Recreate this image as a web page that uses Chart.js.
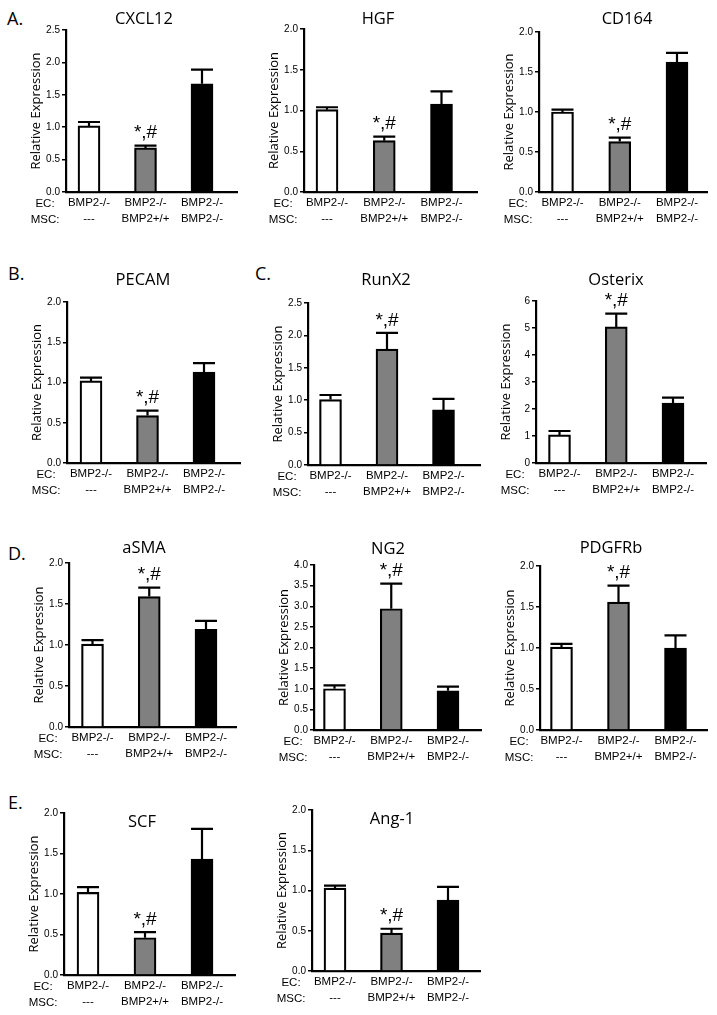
<!DOCTYPE html>
<html><head><meta charset="utf-8">
<script src="https://cdn.jsdelivr.net/npm/chart.js@4.4.0/dist/chart.umd.min.js"></script>
<style>
html,body{margin:0;padding:0;background:#fff;}
#fig{position:relative;width:717px;height:1015px;overflow:hidden;font-family:"Open Sans",Arial,sans-serif;color:#000;}
.ttl{position:absolute;font-size:16.5px;transform:translate(-50%,-50%);white-space:nowrap;}
.let{position:absolute;font-size:18px;transform:translate(0,-50%);white-space:nowrap;}
.grp{position:absolute;font-family:"Liberation Sans",Arial,sans-serif;font-size:11.5px;line-height:16px;text-align:center;transform:translateX(-50%);white-space:nowrap;}
canvas{position:absolute;}
</style></head><body><div id="fig"></div>
<script>
// ---------- data ----------
const ecLabels  = ['BMP2-/-','BMP2-/-','BMP2-/-'];
const mscLabels = ['---','BMP2+/+','BMP2-/-'];
const rowLabels = ['EC:','MSC:'];
const genes = ['CXCL12','HGF','CD164','PECAM','RunX2','Osterix','aSMA','NG2','PDGFRb','SCF','Ang-1'];
const panelLetters = ['A.','B.','C.','D.','E.'];
const yMaxes = [2.5,2.0,2.0,2.0,2.5,6,2.0,4.0,2.0,2.0,2.0];
const ySteps = [0.5,0.5,0.5,0.5,0.5,1,0.5,0.5,0.5,0.5,0.5];
const sigMark = ['', '*,#', ''];

const cxcl12Mean  = [1.02,0.68,1.67];  const cxcl12Sem  = [0.06,0.035,0.22];
const hgfMean     = [1.01,0.63,1.08];  const hgfSem     = [0.03,0.05,0.155];
const cd164Mean   = [1.00,0.63,1.625]; const cd164Sem   = [0.03,0.05,0.115];
const pecamMean   = [1.02,0.59,1.13];  const pecamSem   = [0.04,0.06,0.11];
const runx2Mean   = [1.01,1.79,0.85];  const runx2Sem   = [0.07,0.25,0.17];
const osterixMean = [1.04,5.04,2.22];  const osterixSem = [0.145,0.49,0.20];
const asmaMean    = [1.01,1.59,1.19];  const asmaSem    = [0.05,0.11,0.105];
const ng2Mean     = [1.00,2.94,0.95];  const ng2Sem     = [0.08,0.61,0.10];
const pdgfrbMean  = [1.01,1.56,1.00];  const pdgfrbSem  = [0.04,0.20,0.155];
const scfMean     = [1.02,0.46,1.43];  const scfSem     = [0.065,0.07,0.375];
const ang1Mean    = [1.03,0.47,0.88];  const ang1Sem    = [0.03,0.055,0.165];

const allMeans = [cxcl12Mean,hgfMean,cd164Mean,pecamMean,runx2Mean,osterixMean,asmaMean,ng2Mean,pdgfrbMean,scfMean,ang1Mean];
const allSems  = [cxcl12Sem,hgfSem,cd164Sem,pecamSem,runx2Sem,osterixSem,asmaSem,ng2Sem,pdgfrbSem,scfSem,ang1Sem];

// ---------- layout (page pixels) ----------
const layout = [
  {ax:66, right:237, yTop:30,  y0:192, c0:89,  c2:202, tx:144, ty:17},
  {ax:304,right:477, yTop:29,  y0:192, c0:327, c2:441.5, tx:378, ty:17},
  {ax:539,right:707, yTop:32,  y0:192, c0:562.5,c2:677, tx:627, ty:17},
  {ax:67, right:240, yTop:302, y0:463, c0:91,  c2:204, tx:143, ty:278},
  {ax:308,right:480, yTop:303, y0:465, c0:330.5,c2:443.5, tx:386, ty:278},
  {ax:536,right:706, yTop:301, y0:463, c0:559.5,c2:673, tx:616, ty:278},
  {ax:69, right:236, yTop:563, y0:727, c0:92.5,c2:206, tx:144, ty:546},
  {ax:314,right:481, yTop:565, y0:730, c0:334.5,c2:448, tx:388, ty:547},
  {ax:540,right:707, yTop:566, y0:730, c0:561.5,c2:675.5, tx:611, ty:546},
  {ax:64, right:235, yTop:813, y0:975, c0:88,  c2:202, tx:142, ty:820},
  {ax:312,right:480, yTop:810, y0:971, c0:335, c2:448, tx:392, ty:817}
];
const letterPos = [[7,18],[8,273],[255,273],[8,553],[8,802]];

const barColors = ['#ffffff','#808080','#000000'];
const fig = document.getElementById('fig');

const errPlugin = {
  id:'errbars',
  afterDatasetsDraw(chart){
    const ctx = chart.ctx, meta = chart.getDatasetMeta(0), ys = chart.scales.y;
    const ds = chart.data.datasets[0];
    ctx.save();
    ctx.strokeStyle = '#000'; ctx.lineWidth = 2.2;
    meta.data.forEach((bar,i)=>{
      const m = ds.data[i].y, e = ds.sem[i];
      const yb = ys.getPixelForValue(m), yt = ys.getPixelForValue(m+e);
      const hw = bar.width/2;
      ctx.beginPath();
      ctx.moveTo(bar.x, yb); ctx.lineTo(bar.x, yt);
      ctx.moveTo(bar.x-hw, yt); ctx.lineTo(bar.x+hw, yt);
      ctx.stroke();
      if (ds.marks[i]) {
        ctx.fillStyle = '#000';
        ctx.font = '19px "Liberation Sans", Arial, sans-serif';
        ctx.textAlign = 'center'; ctx.textBaseline = 'bottom';
        ctx.fillText(ds.marks[i], bar.x, yt - 3);
      }
    });
    ctx.restore();
  }
};

function addDiv(cls, html, x, y){
  const d = document.createElement('div');
  d.className = cls; d.innerHTML = html;
  d.style.left = x + 'px'; d.style.top = y + 'px';
  fig.appendChild(d); return d;
}

panelLetters.forEach((t,i)=> addDiv('let', t, letterPos[i][0], letterPos[i][1]));

const PADL = 4, YW = 41, PADT = 28, XH = 42, PADR = 4;

genes.forEach((g, p)=>{
  const L = layout[p];
  const ax = Math.round(L.ax), y0 = Math.round(L.y0), yTop = Math.round(L.yTop), right = Math.round(L.right);
  const cv = document.createElement('canvas');
  const w = PADL + YW + (right - ax) + PADR;
  const h = PADT + (y0 - yTop) + XH;
  cv.width = w; cv.height = h;
  cv.style.width = w + 'px'; cv.style.height = h + 'px';
  cv.style.left = (ax - PADL - YW) + 'px';
  cv.style.top = (yTop - PADT) + 'px';
  fig.appendChild(cv);

  const s = (L.c2 - L.c0) / 2;
  const xmin = -(L.c0 - L.ax) / s;
  const xmax = 2 + (L.right - L.c2) / s;
  const step = ySteps[p];

  new Chart(cv.getContext('2d'), {
    type:'bar',
    data:{ datasets:[{
      data: allMeans[p].map((v,i)=>({x:i, y:v})),
      sem: allSems[p],
      marks: sigMark,
      backgroundColor: barColors,
      borderColor:'#000', borderWidth:2.2, borderSkipped:'start',
      barThickness:22
    }]},
    options:{
      responsive:false, maintainAspectRatio:false, animation:false, devicePixelRatio:1,
      layout:{padding:{left:PADL, top:PADT, right:PADR, bottom:0}},
      plugins:{legend:{display:false}, tooltip:{enabled:false}},
      scales:{
        x:{
          type:'linear', min:xmin, max:xmax, offset:false,
          afterBuildTicks: a => { a.ticks = [0,1,2].map(v=>({value:v})); },
          afterFit: a => { a.height = XH; },
          grid:{display:false, drawTicks:false, offset:false},
          border:{display:true, color:'#000', width:2.2},
          ticks:{ padding:3, maxRotation:0, autoSkip:false,
            color:'#000',
            font:{family:'"Liberation Sans",Arial,sans-serif', size:11.5, lineHeight:1.39},
            callback: v => [ecLabels[v], mscLabels[v]] }
        },
        y:{
          min:0, max:yMaxes[p],
          afterFit: a => { a.width = YW; },
          grid:{display:true, drawOnChartArea:false, drawTicks:true, tickLength:4, color:'#000', lineWidth:1.5},
          border:{display:true, color:'#000', width:2.2},
          ticks:{ stepSize:step, padding:2, color:'#000',
            font:{family:'"Liberation Sans",Arial,sans-serif', size:10},
            callback: v => step < 1 ? Number(v).toFixed(1) : String(v) },
          title:{display:true, text:'Relative Expression', color:'#000',
            font:{family:'"Open Sans",Arial,sans-serif', size:13}, padding:{top:3,bottom:0}}
        }
      }
    },
    plugins:[errPlugin]
  });

  addDiv('ttl', g, L.tx, L.ty);
  addDiv('grp', rowLabels.join('<br>'), ax - 21, y0 + 3);
});
</script>
</body></html>
